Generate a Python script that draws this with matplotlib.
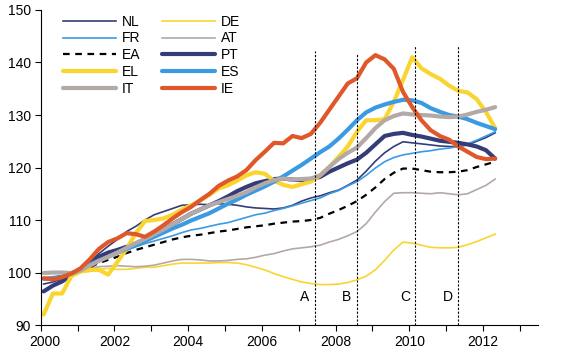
import matplotlib
matplotlib.use("Agg")
import matplotlib.pyplot as plt
import matplotlib.transforms as mtransforms
import numpy as np

plt.rcParams['font.family'] = ['Liberation Sans', 'DejaVu Sans']

# quarterly, 2000Q1 .. 2012Q2
years = 2000.08 + 0.25 * np.arange(50)

nl = [97.8, 98.2, 98.8, 99.5, 100.6, 102.0, 103.6, 105.0, 106.3, 107.8,
      108.8, 110.0, 111.0, 111.6, 112.2, 112.8, 112.9, 113.0, 112.9, 113.1,
      113.0, 112.8, 112.5, 112.3, 112.2, 112.1, 112.3, 112.8, 113.6, 114.2,
      114.6, 115.2, 115.7, 116.6, 117.6, 119.3, 121.2, 122.8, 124.0, 124.9,
      124.7, 124.5, 124.3, 124.1, 124.0, 124.0, 124.3, 125.0, 125.7, 126.6]
de = [100.0, 100.0, 99.9, 99.9, 100.0, 100.2, 100.6, 100.8, 100.6, 100.6,
      100.8, 101.0, 101.0, 101.3, 101.6, 101.8, 101.8, 101.8, 101.8, 101.9,
      101.9, 101.8, 101.5, 101.0, 100.5, 99.8, 99.2, 98.7, 98.2, 97.9,
      97.7, 97.7, 97.8, 98.1, 98.6, 99.3, 100.5, 102.3, 104.3, 105.8,
      105.6, 105.2, 104.8, 104.7, 104.7, 104.8, 105.3, 105.9, 106.6, 107.3]
fr = [99.0, 99.2, 99.4, 99.7, 100.4, 101.3, 102.1, 102.9, 103.6, 104.3,
      104.9, 105.5, 106.0, 106.5, 107.0, 107.6, 108.1, 108.4, 108.8, 109.2,
      109.5, 110.0, 110.5, 111.0, 111.3, 111.8, 112.2, 112.7, 113.2, 113.7,
      114.2, 115.0, 115.6, 116.5, 117.3, 118.5, 119.9, 121.1, 121.9, 122.4,
      122.7, 123.0, 123.2, 123.5, 123.7, 124.0, 124.5, 125.2, 126.0, 126.8]
at = [100.0, 100.0, 100.0, 100.0, 100.3, 100.8, 101.1, 101.2, 101.3, 101.2,
      101.1, 101.2, 101.4, 101.8, 102.2, 102.5, 102.5, 102.4, 102.2, 102.2,
      102.3, 102.5, 102.6, 102.9, 103.3, 103.6, 104.1, 104.5, 104.7, 104.9,
      105.2, 105.8, 106.3, 107.0, 107.8, 109.3, 111.5, 113.5, 115.1, 115.2,
      115.2, 115.1, 115.0, 115.2, 115.0, 114.8, 115.0, 115.8, 116.6, 117.8]
ea = [98.8, 99.0, 99.3, 99.7, 100.3, 101.0, 101.8, 102.4, 103.0, 103.7,
      104.3, 104.8, 105.3, 105.8, 106.3, 106.7, 107.0, 107.2, 107.5, 107.8,
      108.0, 108.3, 108.6, 108.8, 109.0, 109.3, 109.5, 109.7, 109.8, 110.0,
      110.4, 111.2, 111.9, 112.7, 113.6, 114.8, 116.2, 117.8, 119.0, 119.8,
      119.8, 119.5, 119.2, 119.1, 119.1, 119.2, 119.5, 120.1, 120.6, 121.1]
pt = [96.4, 97.5, 98.3, 99.5, 100.6, 101.8, 103.0, 103.8, 104.3, 104.9,
      105.5, 106.3, 107.2, 108.2, 109.2, 110.2, 111.2, 112.0, 112.8, 113.6,
      114.5, 115.5, 116.3, 117.0, 117.4, 117.8, 117.9, 117.7, 117.6, 117.8,
      118.2, 119.2, 120.0, 120.8, 121.5, 122.8, 124.4, 126.0, 126.4, 126.6,
      126.2, 125.9, 125.5, 125.1, 124.9, 124.7, 124.4, 124.0, 123.3, 121.7]
el = [92.0, 96.0, 96.0, 99.3, 100.2, 100.5, 100.5, 99.6, 102.0, 104.5,
      107.5, 109.8, 110.0, 110.3, 111.0, 112.0, 112.8, 113.7, 114.8, 116.0,
      116.6, 117.5, 118.5, 119.1, 118.8, 117.5, 116.7, 116.3, 116.8, 117.3,
      118.5, 120.1, 122.0, 124.0, 126.8, 129.0, 129.0, 129.2, 132.5, 136.7,
      141.0, 138.9, 137.8, 136.9, 135.6, 134.6, 134.3, 133.0, 130.6, 127.5]
es = [98.8, 98.8, 99.2, 99.8, 100.5, 101.5, 102.3, 103.0, 103.8, 104.5,
      105.2, 106.0, 106.8, 107.6, 108.4, 109.1, 109.9, 110.6, 111.3, 112.2,
      113.1, 113.9, 114.8, 115.6, 116.4, 117.3, 118.3, 119.4, 120.5, 121.7,
      122.9, 124.0, 125.5, 127.2, 129.0, 130.5, 131.4, 132.0, 132.5, 132.9,
      132.8, 132.3, 131.3, 130.6, 130.0, 129.7, 129.2, 128.5, 127.9, 127.3]
it = [99.9, 100.0, 100.0, 99.9, 100.4, 101.3, 102.2, 103.0, 103.8, 104.7,
      105.6, 106.4, 107.3, 108.2, 109.2, 110.2, 111.2, 112.0, 112.8, 113.4,
      114.0, 114.6, 115.3, 116.2, 117.0, 117.6, 117.9, 117.7, 117.8, 117.9,
      118.5, 120.1, 121.6, 122.8, 123.8, 125.6, 127.5, 129.0, 129.8, 130.3,
      130.1, 130.0, 129.9, 129.7, 129.6, 129.7, 130.1, 130.6, 131.0, 131.5]
ie = [98.9, 98.7, 99.1, 99.8, 100.8, 102.5, 104.5, 105.8, 106.5, 107.5,
      107.3, 106.8, 107.8, 109.0, 110.3, 111.5, 112.5, 113.8, 115.0, 116.5,
      117.5, 118.3, 119.5, 121.4, 123.0, 124.7, 124.6, 126.0, 125.6, 126.4,
      128.5, 131.0, 133.5, 136.0, 137.0, 140.0, 141.4, 140.6, 138.8, 134.4,
      131.5, 129.0, 127.1, 126.0, 125.3, 124.0, 123.0, 122.0, 121.6, 121.7]

event_x = [2007.43, 2008.57, 2010.16, 2011.32]
event_top = [142.2, 141.6, 143.3, 143.3]
event_labels = ['A', 'B', 'C', 'D']

navy = '#343d78'
blue = '#3a9be3'
yellow = '#fad52f'
grey = '#b3a9a6'
orange = '#e0572a'

fig = plt.figure(figsize=(5.63, 3.57), dpi=100)
ax = fig.add_axes([0.0723, 0.0896, 0.8838, 0.8824])

lines = {}
lines['NL'], = ax.plot(years, nl, color=navy, lw=1.2)
lines['DE'], = ax.plot(years, de, color=yellow, lw=1.2)
lines['FR'], = ax.plot(years, fr, color=blue, lw=1.2)
lines['AT'], = ax.plot(years, at, color=grey, lw=1.2)
lines['EA'], = ax.plot(years, ea, color='black', lw=1.6, linestyle=(0, (3, 2.5)))
lines['PT'], = ax.plot(years, pt, color=navy, lw=3, solid_capstyle='round')
lines['EL'], = ax.plot(years, el, color=yellow, lw=3, solid_capstyle='round')
lines['ES'], = ax.plot(years, es, color=blue, lw=3, solid_capstyle='round')
lines['IT'], = ax.plot(years, it, color=grey, lw=3, solid_capstyle='round')
lines['IE'], = ax.plot(years, ie, color=orange, lw=3, solid_capstyle='round')

for x, top, lab in zip(event_x, event_top, event_labels):
    ax.vlines(x, 90, top, color='black', lw=0.8, linestyles=(0, (2, 1.5)))
    ax.text(x - 0.27, 95.3, lab, fontsize=10, ha='center', va='center')

# legend goes column by column
order = ['NL', 'FR', 'EA', 'EL', 'IT', 'DE', 'AT', 'PT', 'ES', 'IE']
ax.legend([lines[k] for k in order], order, ncol=2, loc='upper left',
          bbox_to_anchor=(0.045, 0.985), frameon=False, fontsize=10,
          handlelength=3.8, handletextpad=0.4, columnspacing=1.6,
          labelspacing=0.2, borderpad=0, borderaxespad=0)

ax.set_xlim(2000, 2013.5)
ax.set_ylim(90, 150)
ax.set_yticks(range(90, 151, 10))
ax.set_xticks(range(2000, 2014))
ax.set_xticklabels([str(y) if y % 2 == 0 else '' for y in range(2000, 2014)])
ax.tick_params(direction='out', length=4, width=0.8, labelsize=10, pad=3)
ax.spines['top'].set_visible(False)
ax.spines['right'].set_visible(False)
for s in ['left', 'bottom']:
    ax.spines[s].set_linewidth(0.8)

# first year label sits a bit right of its tick, like the original
first = ax.get_xticklabels()[0]
first.set_transform(first.get_transform() +
                    mtransforms.ScaledTranslation(4 / 100, 0, fig.dpi_scale_trans))

fig.savefig('out.png', dpi=100)
